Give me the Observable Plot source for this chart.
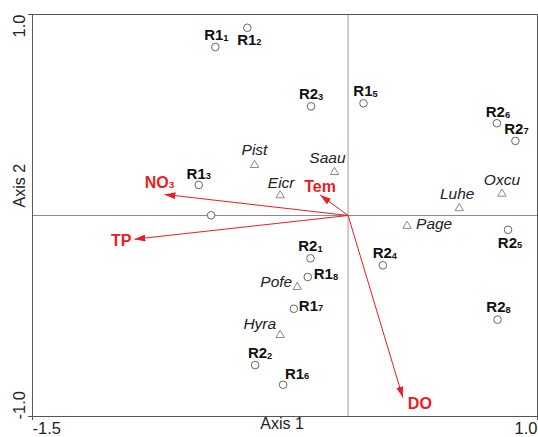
<!DOCTYPE html>
<html><head><meta charset="utf-8">
<script src="https://cdn.jsdelivr.net/npm/d3@7"></script>
<script src="https://cdn.jsdelivr.net/npm/@observablehq/plot@0.6"></script>
<style>html,body{margin:0;padding:0;background:#fff}svg{display:block}</style>
</head><body><div id="chart"></div>
<script>
// ---- data ----
const siteNames = ["R1₁","R1₂","R1₃","R1₄","R1₅","R1₆","R1₇","R1₈","R2₁","R2₂","R2₃","R2₄","R2₅","R2₆","R2₇","R2₈"];
const siteAxis1 = [-0.631,-0.479,-0.710,-0.651,0.073,-0.309,-0.258,-0.192,-0.179,-0.442,-0.176,0.165,0.760,0.707,0.795,0.710];
const siteAxis2 = [0.838,0.934,0.152,0.001,0.558,-0.842,-0.464,-0.306,-0.213,-0.744,0.543,-0.248,-0.071,0.459,0.371,-0.518];
const hiddenSiteLabels = ["R1₄"];

const speciesNames = ["Pist","Eicr","Saau","Luhe","Oxcu","Page","Pofe","Hyra"];
const speciesAxis1 = [-0.445,-0.323,-0.065,0.528,0.731,0.280,-0.242,-0.323];
const speciesAxis2 = [0.251,0.100,0.216,0.036,0.108,-0.052,-0.356,-0.595];

const envNames = ["NO₃","TP","Tem","DO"];
const envAxis1 = [-0.873,-1.016,-0.133,0.260];
const envAxis2 = [0.105,-0.118,0.102,-0.906];

const xDomain = [-1.5, 0.9];
const yDomain = [-1.0, 1.0];
const xTickLabels = ["-1.5","1.0"];
const yTickLabels = ["-1.0","1.0"];
const xTitle = "Axis 1", yTitle = "Axis 2";

// ---- layout of labels (offsets in px, anchor) ----
const sitePlace = {
  "R1₁":[1,-12,"middle"],"R1₂":[2,12,"middle"],"R1₃":[0,-11,"middle"],"R1₅":[2,-12,"middle"],
  "R1₆":[14,-11,"middle"],"R1₇":[5,-3,"start"],"R1₈":[6,-3,"start"],"R2₁":[0,-12,"middle"],
  "R2₂":[5,-12,"middle"],"R2₃":[0,-12,"middle"],"R2₄":[2,-12,"middle"],"R2₅":[2,13,"middle"],
  "R2₆":[1,-11,"middle"],"R2₇":[1,-12,"middle"],"R2₈":[1,-12,"middle"]
};
const speciesPlace = {
  "Pist":[0,-15,"middle"],"Eicr":[1,-12,"middle"],"Saau":[-7,-14,"middle"],"Luhe":[-2,-14,"middle"],
  "Oxcu":[0,-14,"middle"],"Page":[9,-2,"start"],"Pofe":[-5,-5,"end"],"Hyra":[-4,-11,"end"]
};
const envPlace = {"NO₃":[-5,-12,"middle"],"TP":[-3,2,"end"],"Tem":[0,-8,"middle"],"DO":[5,6,"start"]};

const sites = siteNames.map((n,i)=>({name:n,x:siteAxis1[i],y:siteAxis2[i]}));
const species = speciesNames.map((n,i)=>({name:n,x:speciesAxis1[i],y:speciesAxis2[i]}));
const env = envNames.map((n,i)=>({name:n,x:envAxis1[i],y:envAxis2[i]}));

const RED = "#ec1c24";
const FONT = "'Liberation Sans', Arial, Helvetica, sans-serif";

const labelMarks = [];
for (const d of sites) {
  if (hiddenSiteLabels.includes(d.name)) continue;
  const [dx,dy,a] = sitePlace[d.name];
  labelMarks.push(Plot.text([d],{x:"x",y:"y",text:"name",dx,dy,textAnchor:a,fontSize:15,fontWeight:"bold",fill:"#111"}));
}
for (const d of species) {
  const [dx,dy,a] = speciesPlace[d.name];
  labelMarks.push(Plot.text([d],{x:"x",y:"y",text:"name",dx,dy,textAnchor:a,fontSize:15.5,fontStyle:"italic",fill:"#222"}));
}
for (const d of env) {
  const [dx,dy,a] = envPlace[d.name];
  labelMarks.push(Plot.text([d],{x:"x",y:"y",text:"name",dx,dy,textAnchor:a,fontSize:16,fontWeight:"bold",fill:RED}));
}

const chart = Plot.plot({
  width: 538, height: 437,
  marginLeft: 32, marginRight: 1, marginTop: 14, marginBottom: 21,
  style: {fontFamily: FONT, background: "#fff", overflow: "visible"},
  x: {domain: xDomain, axis: null},
  y: {domain: yDomain, axis: null},
  marks: [
    Plot.ruleX([0], {stroke: "#bdbdbd", strokeWidth: 1.5}),
    Plot.ruleY([0], {stroke: "#8a8a8a", strokeWidth: 1}),
    Plot.frame({stroke: "#555", strokeWidth: 1}),
    Plot.axisX({ticks: xDomain, tickSize: 4, tickFormat: () => "", stroke: "#555", label: null}),
    Plot.axisY({ticks: yDomain, tickSize: 4, tickFormat: () => "", stroke: "#555", label: null}),
    // tick labels
    Plot.text([0], {x: xDomain[0], y: yDomain[0], text: () => xTickLabels[0], textAnchor: "start", dy: 12, fontSize: 16.5, fill: "#222"}),
    Plot.text([0], {x: xDomain[1], y: yDomain[0], text: () => xTickLabels[1], textAnchor: "end", dy: 12, fontSize: 16.5, fill: "#222"}),
    Plot.text([0], {x: xDomain[0], y: yDomain[0], text: () => yTickLabels[0], textAnchor: "start", rotate: -90, dx: -13, dy: 3, fontSize: 16.5, fill: "#222"}),
    Plot.text([0], {x: xDomain[0], y: yDomain[1], text: () => yTickLabels[1], textAnchor: "end", rotate: -90, dx: -13, fontSize: 16.5, fill: "#222"}),
    // axis titles
    Plot.text([xTitle], {frameAnchor: "bottom", text: d => d, dy: 12, dx: -3, fontSize: 16, fill: "#222"}),
    Plot.text([yTitle], {frameAnchor: "left", text: d => d, rotate: -90, dx: -13, dy: -8, fontSize: 16, fill: "#222"}),
    // env arrows
    Plot.link(env, {x1: () => 0, y1: () => 0, x2: "x", y2: "y", stroke: RED, strokeWidth: 1}),
    // points
    Plot.dot(species, {x: "x", y: "y", symbol: "triangle", r: 3.1, stroke: "#8a8a8a", strokeWidth: 1, fill: "none"}),
    Plot.dot(sites, {x: "x", y: "y", r: 3.8, stroke: "#666", strokeWidth: 1, fill: "#fff"}),
    ...labelMarks
  ]
});

// arrowheads
const ns = "http://www.w3.org/2000/svg";
const defs = document.createElementNS(ns, "defs");
const marker = document.createElementNS(ns, "marker");
marker.setAttribute("id", "redhead");
marker.setAttribute("markerUnits", "userSpaceOnUse");
marker.setAttribute("markerWidth", "11");
marker.setAttribute("markerHeight", "7");
marker.setAttribute("refX", "11");
marker.setAttribute("refY", "3.5");
marker.setAttribute("orient", "auto");
marker.setAttribute("viewBox", "0 0 11 7");
const mp = document.createElementNS(ns, "path");
mp.setAttribute("d", "M0,0L11,3.5L0,7Z");
mp.setAttribute("fill", RED);
marker.appendChild(mp);
defs.appendChild(marker);
chart.insertBefore(defs, chart.firstChild);
chart.querySelectorAll('g[aria-label="link"] path').forEach(p => p.setAttribute("marker-end", "url(#redhead)"));

// subscripts
const subMap = {"₀":"0","₁":"1","₂":"2","₃":"3","₄":"4","₅":"5","₆":"6","₇":"7","₈":"8","₉":"9"};
chart.querySelectorAll("text").forEach(t => {
  const s = t.textContent;
  const m = s.match(/^(.*?)([₀-₉]+)$/);
  if (!m) return;
  while (t.firstChild) t.removeChild(t.firstChild);
  t.appendChild(document.createTextNode(m[1]));
  const ts = document.createElementNS(ns, "tspan");
  ts.setAttribute("font-size", "0.62em");
  ts.setAttribute("dy", "0.08em");
  ts.textContent = [...m[2]].map(c => subMap[c]).join("");
  t.appendChild(ts);
});

document.getElementById("chart").appendChild(chart);
</script>
</body></html>
